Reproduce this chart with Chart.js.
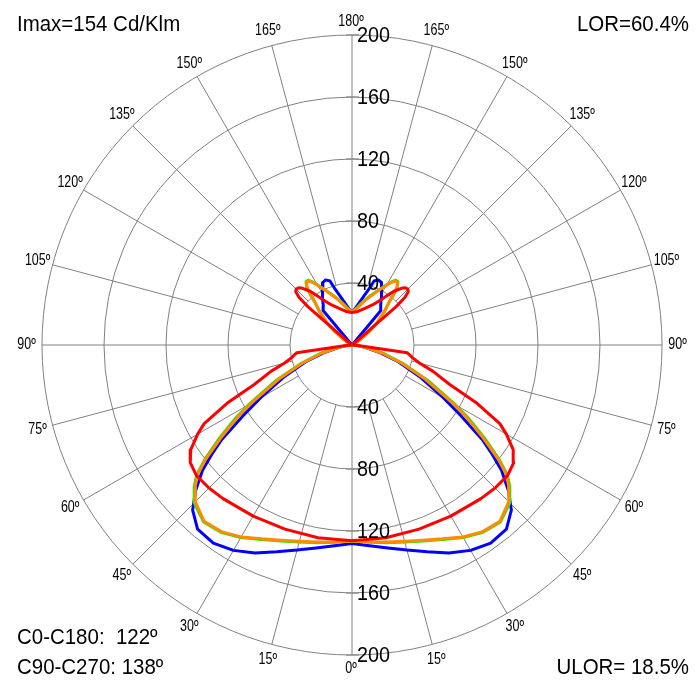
<!DOCTYPE html>
<html>
<head>
<meta charset="utf-8">
<script src="https://cdn.jsdelivr.net/npm/chart.js@4"></script>
<style>
html,body{margin:0;padding:0;background:#fff;}
#wrap{position:relative;width:697px;height:683px;}
</style>
</head>
<body>
<div id="wrap"><canvas id="c"></canvas></div>
<script>
// ---- data (gamma in degrees from nadir, intensity in cd/klm) ----
const blueAngles  = [0,5,10,15,20,25,30,35,40,44,47,50,52,54,57,60,65,70,75,80,85,90,100,110,120,130,136,139,140,144,148,152,155,158,161,163.4,167,172,176,180];
const blueValues  = [128,130,133,137,142,148,153,156,155,148,138,126,115,104,84,68,48,32,18,8,3,0,0.5,0.5,0.5,1,1.5,3,29,31.5,35.5,41,44.5,45.3,43.7,37.2,31.5,26,23,21];

const redAngles   = [0,10,20,30,40,45,50,54,57,60,62,65,68,72,75,78,80,82,84,90,100,110,120,128,130,131,132,133.5,135,137,139,142,145,147.5,153,160,170,180];
const redValues   = [126.3,126.3,126.4,127.5,129.4,130.5,131,129,124,115,108,89,68,55,45,40,38,36,6,0.5,0.5,0.5,0.5,1,4,38,46,50,51,50.5,48.5,44,38.5,34.4,29,25.3,22,21];

const greenAngles = [0,5,10,15,20,25,30,35,40,45,48,50,52,55,58,60,65,70,75,80,85,90,100,110,120,124,128,132,136,139,140.5,142,144,146,148,151,155,160,165,172,180];
const greenValues = [126.5,127.8,129.5,131.5,134.5,138.5,143.5,147.5,149,144,137,131,121,104,88,77,54,35,21,9.5,3,0,0.5,1,3,7.5,14.5,22.5,30.5,36.5,42.5,47.5,50.5,50.5,48,43.5,38.5,33.5,29.5,24.5,21];

const orangeAngles= [0,5,10,15,20,25,30,35,40,45,48,50,52,55,58,60,65,70,75,80,85,90,100,110,120,124,128,132,136,139,140.5,142,144,146,148,151,155,160,165,172,180];
const orangeValues= [126.5,127.5,129,131,134,138,143,147,148.5,143,136,130,120,102,86,75,52,34,20,9,3,0,0.5,1,3,7,14,22,30,36,42,47,50,49.8,47.5,43,38,33,29,24,21];

const ringValues  = [40,80,120,160,200];
const tickLabels  = ['40','80','120','160','200'];
const spokeAngles = [15,30,45,60,75,90,105,120,135,150,165];
const angleLabels = ['0º','15º','30º','45º','60º','75º','90º','105º','120º','135º','150º','165º','180º'];

const topLeftText  = 'Imax=154 Cd/Klm';
const topRightText = 'LOR=60.4%';
const bottomLeft1  = 'C0-C180:  122º';
const bottomLeft2  = 'C90-C270: 138º';
const bottomRight  = 'ULOR= 18.5%';

// ---- build polar points (right half: gamma 0..180, left half: 180..0) ----
function polarPoints(angles, values){
  const pts = [];
  for (let i = 0; i < angles.length; i++){
    const g = angles[i]*Math.PI/180;
    pts.push({x: values[i]*Math.sin(g), y: -values[i]*Math.cos(g)});
  }
  for (let i = angles.length-1; i >= 0; i--){
    const g = angles[i]*Math.PI/180;
    pts.push({x: -values[i]*Math.sin(g), y: -values[i]*Math.cos(g)});
  }
  return pts;
}

const FONT = '"Liberation Sans", Arial, sans-serif';
function drawText(ctx, txt, x, y, size, align, sx){
  ctx.save();
  ctx.font = size + 'px ' + FONT;
  ctx.textBaseline = 'middle';
  const w = ctx.measureText(txt).width * sx;
  let left = x;
  if (align === 'center') left = x - w/2;
  else if (align === 'right') left = x - w;
  ctx.translate(left, y);
  ctx.scale(sx, 1);
  ctx.textAlign = 'left';
  ctx.fillStyle = '#000';
  ctx.fillText(txt, 0, 0);
  ctx.restore();
}

const gridPlugin = {
  id: 'polarGrid',
  beforeDatasetsDraw(chart){
    const ctx = chart.ctx, sx = chart.scales.x, sy = chart.scales.y;
    const cx = sx.getPixelForValue(0), cy = sy.getPixelForValue(0);
    const rp = v => sx.getPixelForValue(v) - cx;
    ctx.save();
    ctx.strokeStyle = '#808080';
    ctx.lineWidth = 1;
    ringValues.forEach(r => { ctx.beginPath(); ctx.arc(cx, cy, rp(r), 0, Math.PI*2); ctx.stroke(); });
    const r0 = ringValues[0], r1 = ringValues[ringValues.length-1];
    spokeAngles.forEach(a => {
      const g = a*Math.PI/180;
      [1,-1].forEach(s => {
        ctx.beginPath();
        ctx.moveTo(sx.getPixelForValue(s*r0*Math.sin(g)), sy.getPixelForValue(-r0*Math.cos(g)));
        ctx.lineTo(sx.getPixelForValue(s*r1*Math.sin(g)), sy.getPixelForValue(-r1*Math.cos(g)));
        ctx.stroke();
      });
    });
    ctx.beginPath();
    ctx.moveTo(cx, sy.getPixelForValue(r1));
    ctx.lineTo(cx, sy.getPixelForValue(-r1));
    ctx.stroke();
    ringValues.forEach(r => {
      [r, -r].forEach(v => {
        const yy = sy.getPixelForValue(v);
        ctx.beginPath(); ctx.moveTo(cx-6, yy); ctx.lineTo(cx+7, yy); ctx.stroke();
      });
    });
    ctx.restore();
  },
  afterDraw(chart){
    const ctx = chart.ctx, sx = chart.scales.x, sy = chart.scales.y;
    const cx = sx.getPixelForValue(0);
    ringValues.forEach((r, i) => {
      drawText(ctx, tickLabels[i], cx+5, sy.getPixelForValue(r)+1, 22, 'left', 0.9);
      drawText(ctx, tickLabels[i], cx+5, sy.getPixelForValue(-r)+1, 22, 'left', 0.9);
    });
    const rl = 210;
    angleLabels.forEach((lab, i) => {
      const a = i*15, g = a*Math.PI/180;
      const yy = sy.getPixelForValue(-rl*Math.cos(g));
      if (a === 0 || a === 180){
        drawText(ctx, lab, cx-1, a===0 ? yy-2 : yy+2, 16, 'center', 0.78);
      } else {
        drawText(ctx, lab, sx.getPixelForValue(rl*Math.sin(g)), yy, 16, 'center', 0.78);
        drawText(ctx, lab, sx.getPixelForValue(-rl*Math.sin(g)), yy, 16, 'center', 0.78);
      }
    });
    drawText(ctx, topLeftText, 17, 25, 22, 'left', 0.93);
    drawText(ctx, topRightText, 689, 25, 22, 'right', 0.93);
    drawText(ctx, bottomLeft1, 17, 638, 22, 'left', 0.93);
    drawText(ctx, bottomLeft2, 17, 668, 22, 'left', 0.93);
    drawText(ctx, bottomRight, 689, 668, 22, 'right', 0.93);
  }
};

function ds(label, angles, values, color, order){
  return {label, data: polarPoints(angles, values), borderColor: color, backgroundColor: color,
          showLine: true, pointRadius: 0, borderWidth: 3, tension: 0, fill: false, order,
          borderJoinStyle: 'round'};
}

new Chart(document.getElementById('c'), {
  type: 'scatter',
  data: {
    datasets: [
      ds('Red', redAngles, redValues, '#ff0000', 0),
      ds('Orange', orangeAngles, orangeValues, '#ff8c00', 1),
      ds('Green', greenAngles, greenValues, '#33e000', 2),
      ds('Blue', blueAngles, blueValues, '#0000ff', 3)
    ]
  },
  options: {
    responsive: true,
    maintainAspectRatio: false,
    animation: false,
    layout: {padding: {left: 42, right: 35, top: 35, bottom: 28}},
    plugins: {legend: {display: false}, tooltip: {enabled: false}},
    scales: {
      x: {type: 'linear', min: -200, max: 200, display: false},
      y: {type: 'linear', min: -200, max: 200, display: false}
    }
  },
  plugins: [gridPlugin]
});
</script>
</body>
</html>
